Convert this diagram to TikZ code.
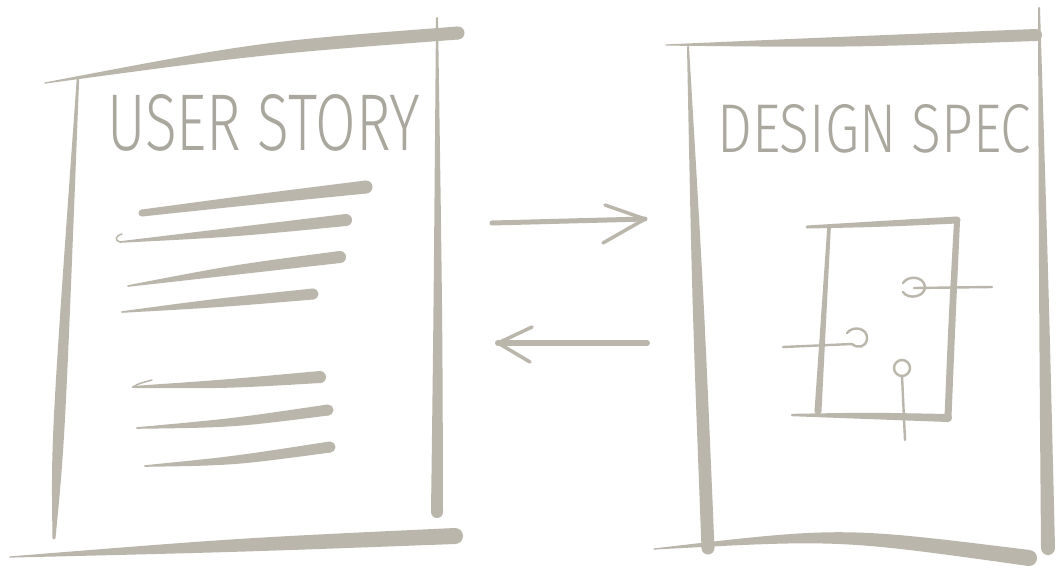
\documentclass[tikz,border=0pt]{standalone}
\usepackage{fontspec}
\usetikzlibrary{calc}
\newfontfamily\handfont{Fira Sans Light}
\definecolor{ink}{RGB}{186,182,171}
\definecolor{inktext}{RGB}{170,167,158}

% Tapered marker stroke: start, bend and end points with their half-widths.
% The outline runs as smooth curves bent towards the middle point.
\newcommand\taper[6]{%
  \fill[ink] ($(#1)!#4!90:(#2)$) .. controls ($(#2)!#5!90:(#3)$) .. ($(#3)!#6!-90:(#2)$)
    -- ($(#3)!#6!90:(#2)$) .. controls ($(#2)!#5!-90:(#3)$) .. ($(#1)!#4!-90:(#2)$) -- cycle;
  \fill[ink] (#3) circle[radius=#6];
  \fill[ink] (#1) circle[radius=#4];
}

\begin{document}
\begin{tikzpicture}[x=1pt,y=-1pt,
  pen/.style={draw=ink, line cap=round, line join=round},
  shaft/.style={pen, line width=5pt},
  barb/.style={pen, line width=3.5pt},
  fine/.style={pen, line width=2.4pt},
  title/.style={inner sep=0pt, text=inktext}]
\useasboundingbox (0,0) rectangle (1062,568);
\fill[white] (0,0) rectangle (1062,568);

% ---------- left sheet ----------
\taper{45,83}{260,48}{458,33}{0.6pt}{6.5pt}{6.5pt}
\taper{78,78}{58,440}{54,538}{1.2pt}{7pt}{1.5pt}
\taper{437,18}{438,320}{437,512}{1pt}{4.5pt}{6pt}
\taper{10,557}{240,545}{455,536}{0.6pt}{7pt}{8pt}

\node[title, anchor=south west] (us) at (107,152)
  {\resizebox{313pt}{56pt}{\handfont USER STORY}};

% text lines
\taper{142,213}{250,200}{366,187}{3.5pt}{5pt}{6.5pt}
\taper{120,242}{233,232}{346,220}{0.8pt}{5pt}{6pt}
\draw[pen, line width=1.5pt] (121,242) .. controls (114,241) and (115,236) .. (122,234);
\taper{128,286}{233,270}{340,257}{0.8pt}{5pt}{6pt}
\taper{122,312}{217,303}{313,294}{0.8pt}{4.5pt}{5.5pt}
\taper{133,387}{227,384}{320,377}{1pt}{4.5pt}{6pt}
\draw[pen, line width=1.5pt] (133,387) .. controls (138,383) and (146,382) .. (152,380);
\taper{137,428}{233,423}{328,410}{0.8pt}{4.5pt}{5.5pt}
\taper{145,466}{233,461}{330,447}{0.8pt}{4.5pt}{5.5pt}

% ---------- arrows ----------
\coordinate (r0) at (492,223);
\coordinate (r1) at (645,219);
\draw[shaft] (r0) -- (r1);
\draw[barb] (605,205) -- (r1) -- (603,243);

\coordinate (l0) at (647,343);
\coordinate (l1) at (498,343);
\draw[shaft, line width=6pt] (l0) -- (l1);
\draw[barb] (532,327) -- (l1) -- (530,362);

% ---------- right sheet ----------
\taper{666,45}{848,42}{1036,35}{0.6pt}{5.5pt}{6pt}
\taper{688,47}{698,300}{708,548}{1pt}{6pt}{6.5pt}
\taper{1039,8}{1044,300}{1048,548}{1pt}{5pt}{7pt}
\taper{654,549}{840,533}{1029,558}{0.6pt}{6.5pt}{8pt}

\node[title, anchor=south west] (ds) at (717,153)
  {\resizebox{314pt}{48pt}{\handfont DESIGN SPEC}};

% component sketch
\taper{807,227}{880,224}{957,220}{1.5pt}{3pt}{3.5pt}
\taper{957,221}{952,320}{948,417}{3pt}{3.5pt}{3.5pt}
\taper{829,228}{823,320}{818,411}{1.8pt}{3pt}{3.5pt}
\taper{792,415}{870,416}{948,418}{1.2pt}{3.5pt}{4pt}

\draw[fine] (783,347) -- (852,344);
\draw[fine] (847,333) .. controls (853,325) and (868,328) .. (867,339)
  .. controls (866,347) and (858,349) .. (852,344);

\draw[fine] (914,288) -- (992,287);
\draw[fine] (903,283) .. controls (908,275) and (924,276) .. (925,287)
  .. controls (925,297) and (908,300) .. (903,292);

\draw[fine] (902,368) circle[radius=8];
\draw[fine] (902,376) -- (905,440);
\end{tikzpicture}
\end{document}
